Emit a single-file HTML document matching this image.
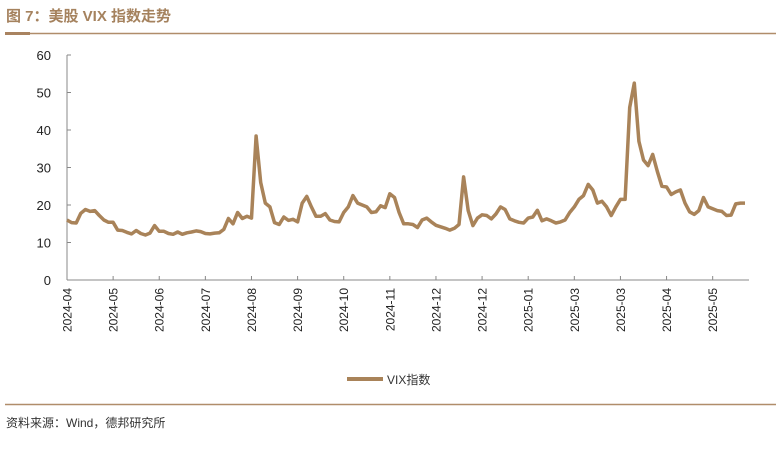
<!DOCTYPE html>
<html><head><meta charset="utf-8"><style>
body{margin:0;background:#fff;width:782px;height:445px;overflow:hidden;font-family:"Liberation Sans","Noto Sans CJK SC",sans-serif;}
</style></head><body>
<svg width="782" height="445" xmlns="http://www.w3.org/2000/svg">
<text x="6" y="21" font-size="15" font-weight="bold" fill="#a5825e" font-family="Liberation Sans, Noto Sans CJK SC, sans-serif">图 7：美股 VIX 指数走势</text>
<line x1="5" y1="33.5" x2="776" y2="33.5" stroke="#b08d6a" stroke-width="1.5"/>
<rect x="5" y="32" width="25" height="3" fill="#a98360"/>
<g id="axes"></g>
<g id="plot"></g>
<line x1="347" y1="379" x2="383" y2="379" stroke="#a98359" stroke-width="4"/>
<text x="387" y="384" font-size="12" fill="#333">VIX指数</text>
<line x1="5" y1="404.5" x2="776" y2="404.5" stroke="#b08d6a" stroke-width="1.5"/>
<text x="6" y="427" font-size="12" fill="#333">资料来源：Wind，德邦研究所</text>
</svg>
<script>
const tickLabels=["2024-04","2024-05","2024-06","2024-07","2024-08","2024-09","2024-10","2024-11","2024-12","2024-12","2025-01","2025-03","2025-03","2025-04","2025-05"];
const yTicks=[0,10,20,30,40,50,60];
const vixValues=[
16,15.3,15.2,17.8,18.8,18.3,18.5,17.2,16,15.4,
15.4,13.3,13.2,12.7,12.3,13.2,12.4,12,12.5,14.5,
13,13,12.4,12.2,12.8,12.2,12.6,12.8,13.1,12.9,
12.4,12.3,12.5,12.6,13.5,16.4,15,18,16.4,17,
16.5,38.4,26,20.5,19.5,15.3,14.8,16.8,15.9,16.2,
15.5,20.5,22.3,19.5,17,17,17.7,16,15.6,15.5,
18,19.5,22.5,20.5,20,19.5,18,18.2,19.8,19.3,
23,22,18,15,15,14.8,14,16,16.5,15.5,
14.6,14.2,13.8,13.3,13.8,14.8,27.5,18.5,14.5,16.5,
17.4,17.2,16.3,17.6,19.5,18.8,16.3,15.8,15.4,15.2,
16.5,16.8,18.6,15.8,16.3,15.8,15.2,15.5,16,18,
19.5,21.5,22.5,25.5,24,20.5,21,19.5,17.2,19.5,
21.5,21.5,46,52.5,37,32,30.5,33.5,29,25,
24.8,22.8,23.5,24,20.5,18.2,17.5,18.5,22,19.5,
19,18.5,18.3,17.2,17.3,20.3,20.5,20.5];
const NS="http://www.w3.org/2000/svg";
const x0=67,step=4.612,yBase=280,yTop=55,yMax=60;
const xs=i=>x0+i*step;
const ys=v=>yBase-(v/yMax)*(yBase-yTop);
const axes=document.getElementById('axes'),plot=document.getElementById('plot');
function mk(tag,attrs,parent){const e=document.createElementNS(NS,tag);for(const k in attrs)e.setAttribute(k,attrs[k]);parent.appendChild(e);return e;}
let e=mk('line',{x1:x0,y1:yTop,x2:x0,y2:yBase,stroke:'#888','stroke-width':1},axes);


e=mk('line',{x1:x0,y1:yBase,x2:749,y2:yBase,stroke:'#888','stroke-width':1},axes);


yTicks.forEach(v=>{
 const t=mk('line',{x1:x0,y1:ys(v),x2:x0+4,y2:ys(v),stroke:'#888'},axes);
 
 
 const l=mk('text',{x:51,y:ys(v)+5,'font-size':13,'text-anchor':'end',fill:'#222'},axes);
 l.textContent=v;
 
 
});
tickLabels.forEach((s,k)=>{
 const x=xs(k*10);
 const t=mk('line',{x1:x,y1:yBase,x2:x,y2:yBase-4,stroke:'#888'},axes);
 
 
 const l=mk('text',{x:0,y:0,'font-size':12,'text-anchor':'end',fill:'#222',transform:`translate(${x+4.5},288) rotate(-90)`},axes);
 l.textContent=s;
 
 
});
const pts=vixValues.map((v,i)=>xs(i).toFixed(1)+','+ys(v).toFixed(1)).join(' ');
const pl=mk('polyline',{points:pts,fill:'none',stroke:'#a98359','stroke-width':3.5,'stroke-linejoin':'round'},plot);


</script>
</body></html>
